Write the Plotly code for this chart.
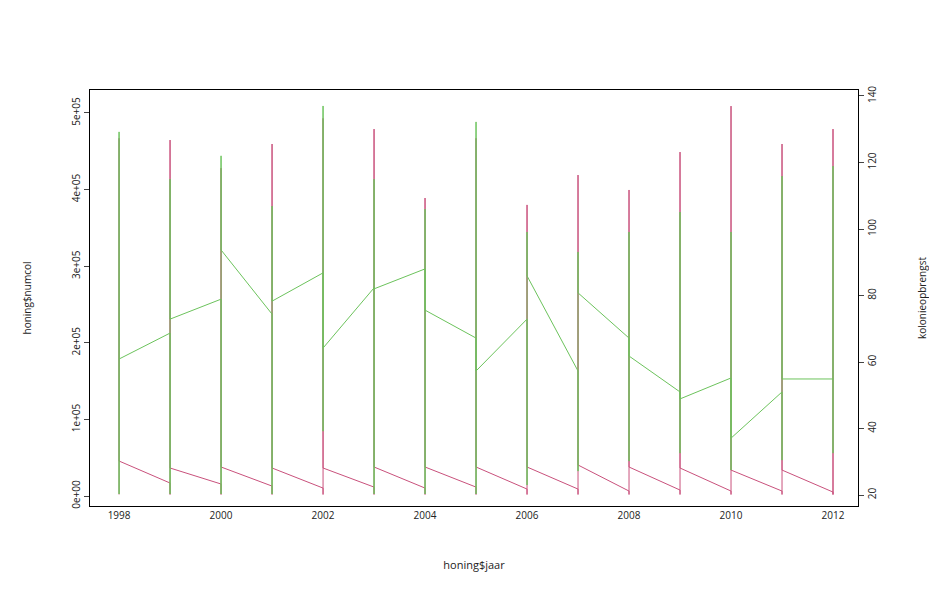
import plotly.graph_objects as go

years = list(range(1998, 2013))
# honing$numcol per year: start, min, max, end
red_start = [2000, 17000, 15700, 13000, 10400, 11700, 10400, 11700, 9100, 9100, 6500, 7800, 6500, 6500, 5200]
red_min = [2000] * 15
red_max = [467000, 464700, 428000, 459500, 493000, 479000, 389000, 467000, 380000, 419000, 399500, 449000, 509000, 459500, 479000]
red_end = [45700, 36600, 37900, 36600, 36600, 37900, 37900, 37900, 37900, 40500, 37900, 36600, 33900, 33900, 2000]
# kolonieopbrengst per year
grn_start = [60.9, 68.7, 78.9, 74.4, 86.8, 82.3, 88.0, 67.2, 72.9, 57.3, 67.2, 51.0, 55.2, 51.0, 54.9]
grn_min = [20.3, 20.3, 20.3, 20.3, 39.2, 20.3, 20.3, 20.3, 23.0, 27.2, 30.2, 32.6, 27.5, 30.5, 32.6]
grn_max = [129.2, 115.0, 122.0, 106.9, 137.0, 115.0, 106.0, 132.2, 99.1, 93.1, 99.1, 105.1, 99.1, 115.9, 118.9]
grn_end = [60.9, 72.9, 93.7, 78.3, 64.2, 82.0, 75.6, 57.3, 85.9, 80.8, 61.8, 48.9, 37.1, 54.9, 54.9]

def path(s, lo, hi, e):
    xs, ys = [], []
    for i, yr in enumerate(years):
        xs += [yr] * 4
        ys += [s[i], lo[i], hi[i], e[i]]
    return xs, ys

rx, ry = path(red_start, red_min, red_max, red_end)
gx, gy = path(grn_start, grn_min, grn_max, grn_end)

fig = go.Figure()
fig.add_trace(go.Scatter(x=rx, y=ry, mode="lines", line=dict(color="#c9517c", width=1), yaxis="y"))
fig.add_trace(go.Scatter(x=gx, y=gy, mode="lines", line=dict(color="#6cc35c", width=1), yaxis="y2"))

fnt = dict(family="Open Sans, DejaVu Sans", size=10, color="#222")
fig.update_layout(
    width=937, height=605, showlegend=False,
    paper_bgcolor="white", plot_bgcolor="white",
    margin=dict(l=82, r=87, t=82, b=107),
    font=fnt,
    xaxis=dict(range=[1997.43, 2012.49], tickvals=list(range(1998, 2013, 2)), automargin=False,
               showgrid=False, zeroline=False, showline=True, mirror=True,
               linecolor="black", ticks="", ticklen=0,
               title=dict(text="honing$jaar", standoff=40, font=dict(size=11))),
    yaxis=dict(range=[-13000, 530000], tickvals=[0, 100000, 200000, 300000, 400000, 500000],
               ticktext=["0e+00", "1e+05", "2e+05", "3e+05", "4e+05", "5e+05"], tickangle=-90,
               automargin=False,
               showgrid=False, zeroline=False, showline=True, linecolor="black",
               ticks="outside", ticklen=5,
               title=dict(text="honing$numcol", standoff=35, font=dict(size=10))),
    yaxis2=dict(range=[16.7, 141.8], overlaying="y", side="right", tickvals=[20, 40, 60, 80, 100, 120, 140],
                tickangle=-90, automargin=False, showgrid=False, zeroline=False, showline=True,
                linecolor="black", ticks="outside", ticklen=5,
                title=dict(text="kolonieopbrengst", standoff=40, font=dict(size=10))),
)
fig.write_html("out.html")
